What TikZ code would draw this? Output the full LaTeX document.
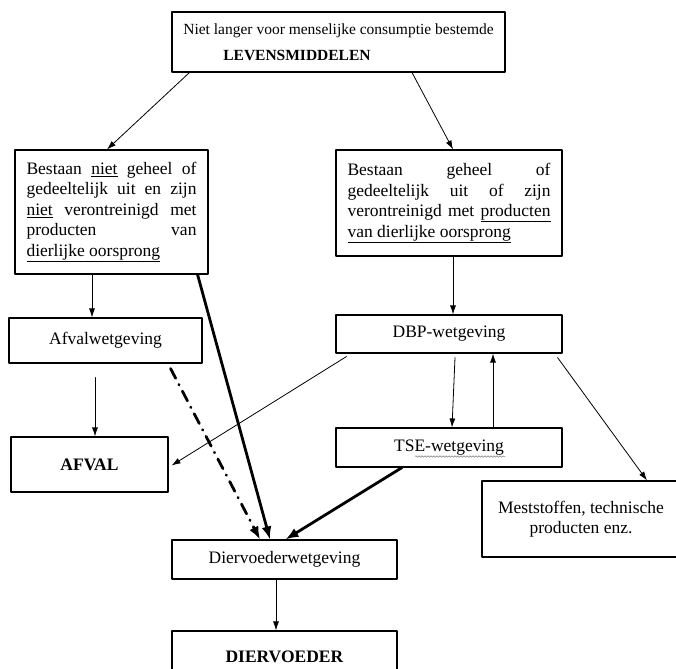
\documentclass[tikz,border=0pt]{standalone}
\usepackage{fontspec}
\setmainfont{Liberation Serif}
\usetikzlibrary{arrows.meta,decorations.pathmorphing}
\begin{document}
\begin{tikzpicture}[x=1pt,y=-1pt,line cap=round,line join=round,>={Latex[length=9pt,width=6pt]},
  vak/.style={draw,line width=1.1pt,inner sep=0pt,font=\fontsize{17.5}{20.5}\selectfont},
  dun/.style={line width=0.8pt,->},
  dik/.style={line width=2.8pt,-{Latex[length=13pt,width=10pt]}},
  streepstip/.style={dik,dash pattern=on 11pt off 7pt on 0.5pt off 7pt}]
  \useasboundingbox (0,0) rectangle (676,668);
  \node[vak,minimum width=333pt,minimum height=60pt,align=left,font=\fontsize{15.5}{26}\selectfont] (top) at (338.5,42) {Niet langer voor menselijke consumptie bestemde\\ \hspace*{40pt}\textbf{LEVENSMIDDELEN}};
  \node[vak,minimum width=193pt,minimum height=124pt,text width=170pt,align=justify] (links) at (111.5,212) {Bestaan \underline{niet} geheel of\linebreak gedeeltelijk uit en zijn\linebreak \underline{niet} verontreinigd met\linebreak producten van\linebreak \underline{dierlijke oorsprong}};
  \node[vak,minimum width=226pt,minimum height=106pt,text width=203pt,align=justify] (rechts) at (449,203) {Bestaan geheel of\linebreak gedeeltelijk uit of zijn\linebreak verontreinigd met \underline{producten}\linebreak \underline{van dierlijke oorsprong}};
  \node[vak,minimum width=193pt,minimum height=45pt] (afvalw) at (105.5,340.5) {Afvalwetgeving};
  \node[vak,minimum width=226pt,minimum height=38pt] (dbp) at (449,334) {DBP-wetgeving};
  \node[vak,minimum width=157pt,minimum height=55pt] (afval) at (89.5,464.5) {\textbf{AFVAL}};
  \node[vak,minimum width=226pt,minimum height=39pt] (tse) at (449,447.5) {TSE-wetgeving};
  \node[vak,minimum width=198pt,minimum height=76pt,align=center] (mest) at (581,519) {Meststoffen, technische\\producten enz.};
  \node[vak,minimum width=225pt,minimum height=39pt] (dvw) at (284.5,559.5) {Diervoederwetgeving};
  \node[vak,minimum width=225pt,minimum height=52pt] (dv) at (284.5,657) {\textbf{DIERVOEDER}};
  \draw[gray,line width=0.5pt,decorate,decoration={snake,amplitude=0.8pt,segment length=3pt}] ([xshift=-34pt,yshift=-9pt]tse.center) -- ([xshift=56pt,yshift=-9pt]tse.center);
  \draw[dun] ([xshift=18pt]top.south west) -- ([xshift=-4.5pt]links.north);
  \draw[dun] ([xshift=73.5pt]top.south) -- ([xshift=4pt]rechts.north);
  \draw[dun] ([xshift=-19.5pt]links.south) -- ([xshift=-19.5pt]links.south |- afvalw.north);
  \draw[dun] ([xshift=-10.5pt,yshift=-14pt]afvalw.south) -- ([xshift=-10.5pt]afvalw.south |- afval.north);
  \draw[dun] ([xshift=4pt]rechts.south) -- ([xshift=4pt]rechts.south |- dbp.north);
  \draw[dun] ([xshift=6pt,yshift=-4pt]dbp.south) -- ([xshift=3pt]tse.north);
  \draw[dun] ([xshift=44pt]tse.north) -- ([xshift=44pt]tse.north |- dbp.south);
  \draw[dun] ([xshift=11pt,yshift=-3pt]dbp.south west) -- ([xshift=3pt,yshift=-1pt]afval.east);
  \draw[dun] ([xshift=-5pt,yshift=-4pt]dbp.south east) -- ([xshift=66pt]mest.north);
  \draw[dun] ([xshift=-8.5pt]dvw.south) -- ([xshift=-8.5pt]dvw.south |- dv.north);
  \draw[dik] ([xshift=-11pt]links.south east) -- ([xshift=-14.5pt]dvw.north);
  \draw[streepstip] ([xshift=-32pt,yshift=-5pt]afvalw.south east) -- ([xshift=-24.5pt]dvw.north);
  \draw[dik] ([xshift=-47pt]tse.south) -- ([xshift=1pt]dvw.north);
\end{tikzpicture}
\end{document}
